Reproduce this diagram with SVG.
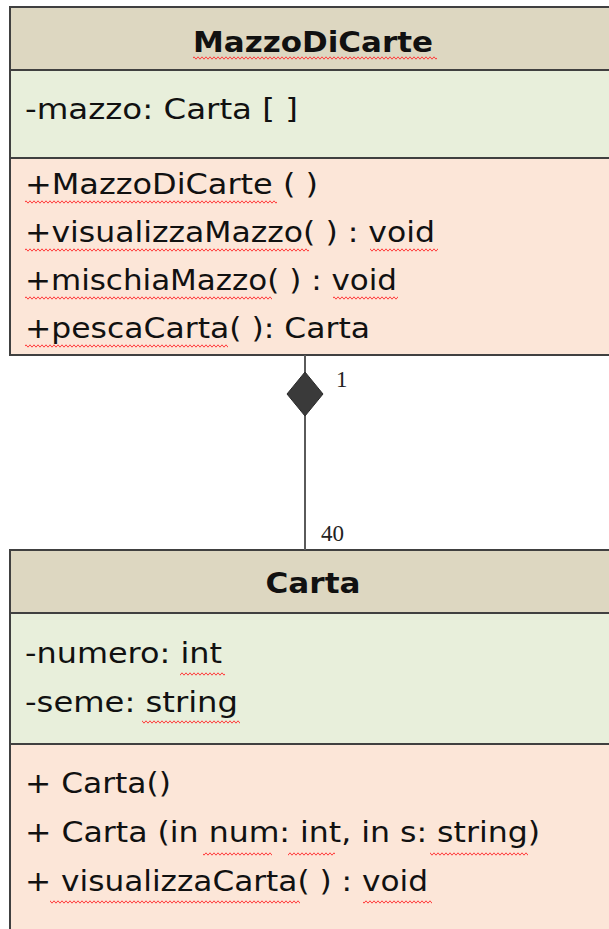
<svg xmlns="http://www.w3.org/2000/svg" width="609" height="929" viewBox="0 0 609 929">
<defs>
<pattern id="wave" width="4" height="4" patternUnits="userSpaceOnUse">
<path d="M-1,2 L0,3.2 L2,0.8 L4,3.2 L5,2" fill="none" stroke="#ff3b3b" stroke-width="1"/>
</pattern>
</defs>
<style>
.box{stroke:#404040;stroke-width:2}
.hdr{fill:#ddd7c1}
.att{fill:#e8efdb}
.met{fill:#fce6d8}
.t{font-family:"DejaVu Sans","Open Sans",sans-serif;font-size:28px;fill:#111}
.b{font-weight:bold;text-anchor:middle}
.m{font-family:"Liberation Serif",serif;font-size:23px;fill:#222}
.sq{fill:url(#wave)}
</style>
<rect width="609" height="929" fill="#ffffff"/>
<g id="MazzoDiCarte">
<rect class="box hdr" x="10" y="7" width="610" height="63"/>
<rect class="box att" x="10" y="70" width="610" height="88"/>
<rect class="box met" x="10" y="158" width="610" height="197"/>
<text class="t b" x="313" y="52" textLength="240" lengthAdjust="spacingAndGlyphs">MazzoDiCarte</text>
<text class="t" x="25" y="119" textLength="273" lengthAdjust="spacingAndGlyphs">-mazzo: Carta [ ]</text>
<text class="t" x="25" y="194" textLength="293" lengthAdjust="spacingAndGlyphs">+MazzoDiCarte ( )</text>
<text class="t" x="25" y="242" textLength="410" lengthAdjust="spacingAndGlyphs">+visualizzaMazzo( ) : void</text>
<text class="t" x="25" y="290" textLength="372" lengthAdjust="spacingAndGlyphs">+mischiaMazzo( ) : void</text>
<text class="t" x="25" y="338" textLength="345" lengthAdjust="spacingAndGlyphs">+pescaCarta( ): Carta</text>
<rect class="sq" x="193" y="56" width="244" height="4"/>
<rect class="sq" x="25" y="200" width="252" height="4"/>
<rect class="sq" x="25" y="248" width="284" height="4"/>
<rect class="sq" x="370" y="248" width="68" height="4"/>
<rect class="sq" x="25" y="296" width="247" height="4"/>
<rect class="sq" x="333" y="296" width="65" height="4"/>
<rect class="sq" x="25" y="344" width="203" height="4"/>
</g>
<g id="Carta">
<rect class="box hdr" x="10" y="550" width="610" height="63"/>
<rect class="box att" x="10" y="613" width="610" height="131"/>
<rect class="box met" x="10" y="744" width="610" height="200"/>
<text class="t b" x="313" y="593" textLength="95" lengthAdjust="spacingAndGlyphs">Carta</text>
<text class="t" x="25" y="663" textLength="197" lengthAdjust="spacingAndGlyphs">-numero: int</text>
<text class="t" x="25" y="712" textLength="213" lengthAdjust="spacingAndGlyphs">-seme: string</text>
<text class="t" x="25" y="793" textLength="146" lengthAdjust="spacingAndGlyphs">+ Carta()</text>
<text class="t" x="25" y="842" textLength="515" lengthAdjust="spacingAndGlyphs">+ Carta (in num: int, in s: string)</text>
<text class="t" x="25" y="891" textLength="403" lengthAdjust="spacingAndGlyphs">+ visualizzaCarta( ) : void</text>
<rect class="sq" x="180" y="672" width="45" height="4"/>
<rect class="sq" x="142" y="720" width="98" height="4"/>
<rect class="sq" x="203" y="852" width="69" height="4"/>
<rect class="sq" x="288" y="852" width="47" height="4"/>
<rect class="sq" x="430" y="852" width="98" height="4"/>
<rect class="sq" x="50" y="900" width="250" height="4"/>
<rect class="sq" x="363" y="900" width="69" height="4"/>
</g>
<g id="connectors">
<line x1="305" y1="355" x2="305" y2="550" stroke="#5a5a5a" stroke-width="2"/>
<polygon points="305,372 323,394 305,416 287,394" fill="#3a3a3a" stroke="#2a2a2a" stroke-width="1"/>
<text class="m" x="336" y="387">1</text>
<text class="m" x="321" y="541">40</text>
</g>
</svg>
